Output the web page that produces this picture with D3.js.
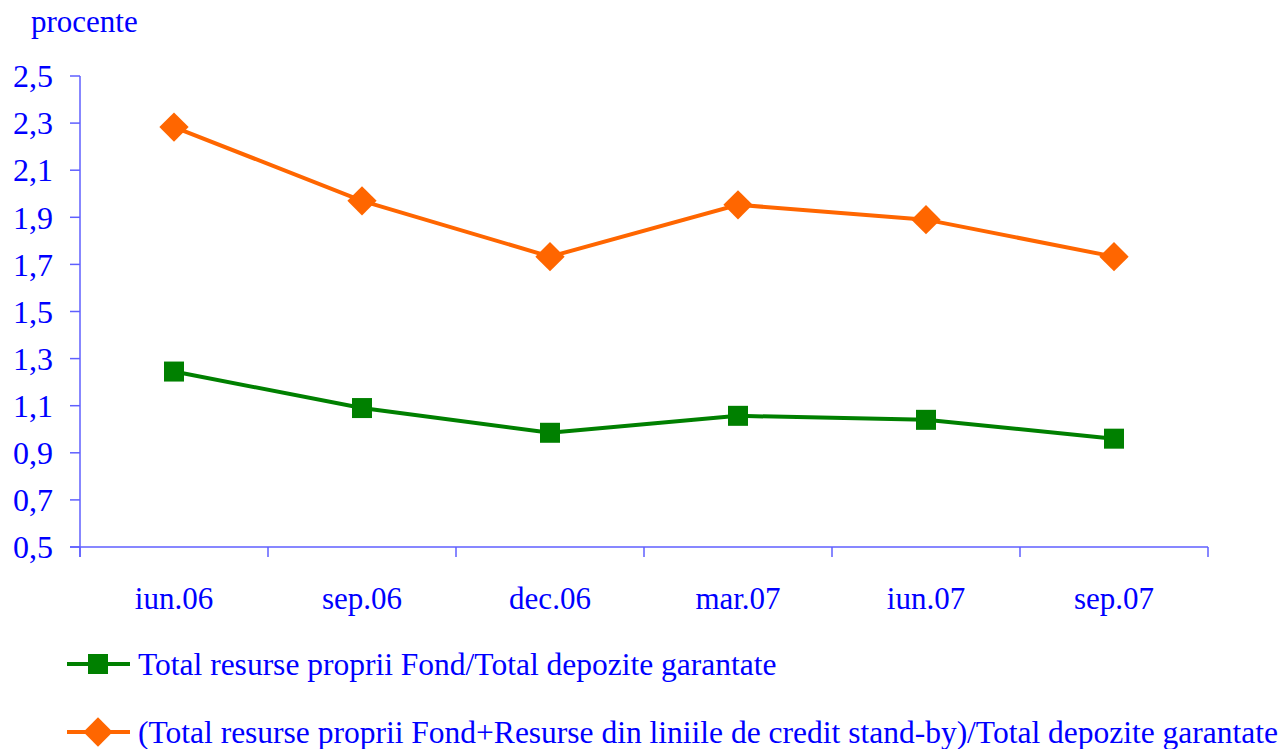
<!DOCTYPE html>
<html>
<head>
<meta charset="utf-8">
<script src="https://cdn.jsdelivr.net/npm/d3@7"></script>
<style>
  body { margin: 0; background: #fff; }
  text { font-family: 'Liberation Serif', 'Times New Roman', serif; fill: #0000ff; }
</style>
</head>
<body>
<div id="chart"></div>
<script>
// data
var periods = ["iun.06", "sep.06", "dec.06", "mar.07", "iun.07", "sep.07"];
var ownFunds = [1.245, 1.09, 0.985, 1.057, 1.04, 0.96];
var ownPlusStandby = [2.283, 1.97, 1.733, 1.953, 1.89, 1.733];
var yTicks = [0.5, 0.7, 0.9, 1.1, 1.3, 1.5, 1.7, 1.9, 2.1, 2.3, 2.5];
var seriesNames = [
  "Total resurse proprii Fond/Total depozite garantate",
  "(Total resurse proprii Fond+Resurse din liniile de credit stand-by)/Total depozite garantate"
];

var W = 1278, H = 749;
var plotLeft = 80, plotRight = 1208, plotTop = 76, plotBottom = 547;
var axisColor = "#5f5fff";
var fontSize = "31px";

var svg = d3.select("#chart").append("svg")
    .attr("width", W).attr("height", H);

var x = d3.scaleBand().domain(periods).range([plotLeft, plotRight]);
var y = d3.scaleLinear().domain([0.5, 2.5]).range([plotBottom, plotTop]);

// y axis
svg.append("line")
    .attr("x1", plotLeft).attr("x2", plotLeft).attr("y1", plotTop).attr("y2", plotBottom + 10)
    .attr("stroke", axisColor).attr("stroke-width", 1.5);
svg.selectAll(".ytick").data(yTicks).enter().append("line")
    .attr("x1", plotLeft - 10).attr("x2", plotLeft)
    .attr("y1", function (d) { return y(d); }).attr("y2", function (d) { return y(d); })
    .attr("stroke", axisColor).attr("stroke-width", 1.5);
svg.selectAll(".ylab").data(yTicks).enter().append("text")
    .attr("x", 53).attr("y", function (d) { return y(d); })
    .attr("dy", "0.35em")
    .attr("text-anchor", "end")
    .style("font-size", "32px")
    .text(function (d) { return d.toFixed(1).replace(".", ","); });

// x axis
svg.append("line")
    .attr("x1", plotLeft - 10).attr("x2", plotRight).attr("y1", plotBottom).attr("y2", plotBottom)
    .attr("stroke", axisColor).attr("stroke-width", 1.5);
var xEdges = periods.map(function (p) { return x(p); }).concat([plotRight]);
svg.selectAll(".xtick").data(xEdges).enter().append("line")
    .attr("x1", function (d) { return d; }).attr("x2", function (d) { return d; })
    .attr("y1", plotBottom).attr("y2", plotBottom + 10)
    .attr("stroke", axisColor).attr("stroke-width", 1.5);
svg.selectAll(".xlab").data(periods).enter().append("text")
    .attr("x", function (d) { return x(d) + x.bandwidth() / 2; })
    .attr("y", 609)
    .attr("text-anchor", "middle")
    .style("font-size", fontSize)
    .text(function (d) { return d; });

// unit label
svg.append("text").attr("x", 31).attr("y", 32)
    .style("font-size", fontSize).text("procente");

var cx = function (d, i) { return x(periods[i]) + x.bandwidth() / 2; };
var line = d3.line().x(cx).y(function (d) { return y(d); });

// green series
svg.append("path").datum(ownFunds)
    .attr("d", line).attr("fill", "none")
    .attr("stroke", "#008000").attr("stroke-width", 4);
svg.selectAll(".sq").data(ownFunds).enter().append("rect")
    .attr("x", function (d, i) { return cx(d, i) - 10; })
    .attr("y", function (d) { return y(d) - 10; })
    .attr("width", 20).attr("height", 20)
    .attr("fill", "#008000");

// orange series
svg.append("path").datum(ownPlusStandby)
    .attr("d", line).attr("fill", "none")
    .attr("stroke", "#ff6600").attr("stroke-width", 4);
var diamond = d3.symbol().type(d3.symbolDiamond2).size(260);
svg.selectAll(".dm").data(ownPlusStandby).enter().append("path")
    .attr("d", diamond)
    .attr("transform", function (d, i) { return "translate(" + cx(d, i) + "," + y(d) + ") scale(1.45)"; })
    .attr("fill", "#ff6600");

// legend
var lg = svg.append("g");
lg.append("line").attr("x1", 67).attr("x2", 130).attr("y1", 664).attr("y2", 664)
    .attr("stroke", "#008000").attr("stroke-width", 4);
lg.append("rect").attr("x", 88).attr("y", 654).attr("width", 20).attr("height", 20)
    .attr("fill", "#008000");
lg.append("text").attr("x", 138).attr("y", 675)
    .style("font-size", "31.5px").text(seriesNames[0]);

lg.append("line").attr("x1", 67).attr("x2", 130).attr("y1", 732).attr("y2", 732)
    .attr("stroke", "#ff6600").attr("stroke-width", 4);
lg.append("path").attr("d", diamond)
    .attr("transform", "translate(98,732) scale(1.45)")
    .attr("fill", "#ff6600");
lg.append("text").attr("x", 138).attr("y", 743)
    .style("font-size", "31.5px").text(seriesNames[1]);
</script>
</body>
</html>
